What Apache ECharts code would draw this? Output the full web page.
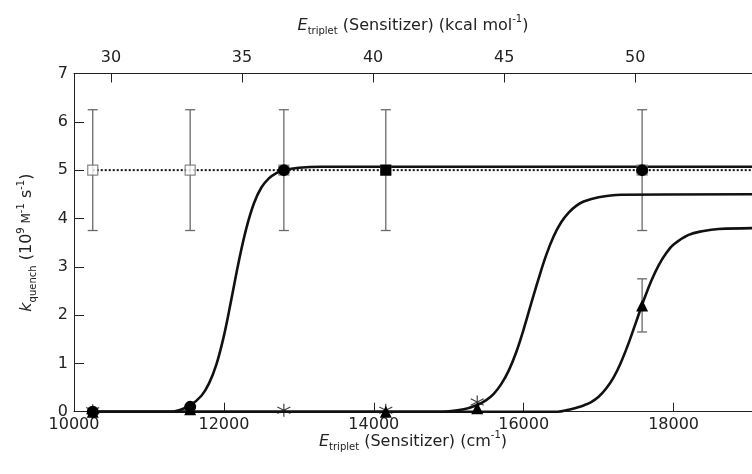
<!DOCTYPE html>
<html>
<head>
<meta charset="utf-8">
<script src="https://cdn.jsdelivr.net/npm/echarts@6/dist/echarts.min.js"></script>
<style>html,body{margin:0;padding:0;background:#fff;}#c{width:752px;height:474px;}</style>
</head>
<body>
<div id="c"></div>
<script>
// ---- data ----
const CM_PER_KCAL = 349.755;
const xBottomTicks = [10000, 12000, 14000, 16000, 18000];
const xTopTicks = [30, 35, 40, 45, 50];
const yTicks = [0, 1, 2, 3, 4, 5, 6, 7];

// open squares (dotted reference line) with error bars
const squareX = [10250, 11550, 12800, 14160, 17580];
const squareY = [5, 5, 5, 5, 5];
const squareErr = [1.25, 1.25, 1.25, 1.25, 1.25];
const dottedX = [10250, 19100];
const dottedY = [5, 5];

// filled circles
const circleX = [10250, 11550, 12800, 17580];
const circleY = [0, 0.1, 5.0, 5.0];
// filled square
const fsquareX = [14160];
const fsquareY = [5.0];
// asterisks
const starX = [10250, 12800, 14160, 15380];
const starY = [0.02, 0.03, 0.03, 0.2];
// filled triangles
const triX = [10250, 11550, 14160, 15380, 17580];
const triY = [0, 0.05, 0, 0.07, 2.2];
const triErr = [0, 0, 0, 0, 0.55];

// fitted curves
const curve1X = [10250, 11300, 11400, 11550, 11700, 11800, 11900, 12000, 12100, 12200, 12300, 12400, 12500, 12600, 12700, 12800, 13000, 13300, 14000, 19100];
const curve1Y = [0, 0, 0.03, 0.13, 0.33, 0.58, 0.98, 1.57, 2.33, 3.12, 3.8, 4.31, 4.64, 4.83, 4.94, 5.0, 5.05, 5.07, 5.07, 5.07];
const curve2X = [10250, 14900, 15200, 15380, 15500, 15600, 15700, 15800, 15900, 16000, 16100, 16200, 16300, 16400, 16500, 16600, 16700, 16800, 17000, 17300, 19100];
const curve2Y = [0, 0, 0.05, 0.14, 0.24, 0.37, 0.57, 0.85, 1.23, 1.71, 2.24, 2.76, 3.24, 3.63, 3.92, 4.12, 4.26, 4.35, 4.44, 4.49, 4.5];
const curve3X = [10250, 16450, 16600, 16700, 16800, 16900, 17000, 17100, 17200, 17300, 17400, 17500, 17600, 17700, 17800, 17900, 18000, 18200, 18400, 18600, 19100];
const curve3Y = [0, 0, 0.04, 0.08, 0.13, 0.2, 0.31, 0.48, 0.71, 1.03, 1.42, 1.86, 2.3, 2.7, 3.03, 3.28, 3.46, 3.66, 3.74, 3.78, 3.8];

// ---- chart ----
const X_MIN = 10000, X_MAX = 19046;
const FONT = 'DejaVu Sans';
const TXT = '#222';
const zip = (a, b) => a.map((v, i) => [v, b[i]]);

const richName = {
  i: {fontFamily: FONT, fontSize: 16, fontStyle: 'italic', color: TXT, lineHeight: 22},
  t: {fontFamily: FONT, fontSize: 16, color: TXT, lineHeight: 22},
  sc: {fontFamily: FONT, fontSize: 12, color: TXT, lineHeight: 22},
  sub: {fontFamily: FONT, fontSize: 10, color: TXT, lineHeight: 11, verticalAlign: 'bottom'},
  sup: {fontFamily: FONT, fontSize: 10, color: TXT, lineHeight: 11, verticalAlign: 'top'}
};

function errorBarSeries(xs, ys, errs) {
  const data = xs.map((x, i) => [x, ys[i], errs[i]]).filter(d => d[2] > 0);
  return {
    type: 'custom',
    xAxisIndex: 0, yAxisIndex: 0,
    z: 1,
    data: data,
    renderItem: function (params, api) {
      const x = api.value(0), y = api.value(1), e = api.value(2);
      const top = api.coord([x, y + e]);
      const bot = api.coord([x, y - e]);
      const hw = 5;
      const st = {stroke: '#6a6a6a', lineWidth: 1.3};
      return {
        type: 'group',
        children: [
          {type: 'line', shape: {x1: top[0], y1: top[1], x2: bot[0], y2: bot[1]}, style: st},
          {type: 'line', shape: {x1: top[0] - hw, y1: top[1], x2: top[0] + hw, y2: top[1]}, style: st},
          {type: 'line', shape: {x1: bot[0] - hw, y1: bot[1], x2: bot[0] + hw, y2: bot[1]}, style: st}
        ]
      };
    }
  };
}

function curveSeries(xs, ys) {
  return {
    type: 'line', data: zip(xs, ys), showSymbol: false, symbol: 'none',
    smooth: 0.4,
    lineStyle: {color: '#111', width: 2.6}, z: 3, silent: true
  };
}

const ASTERISK = 'path://M0,-10L0,10M-8.66,-5L8.66,5M-8.66,5L8.66,-5';

const option = {
  animation: false,
  backgroundColor: '#fff',
  grid: {left: 74, top: 73.5, width: 692, height: 338.2, containLabel: false},
  xAxis: [
    {
      type: 'value', position: 'bottom', min: X_MIN, max: X_MAX,
      axisLine: {show: true, onZero: false, lineStyle: {color: '#222', width: 1}},
      axisTick: {show: true, inside: true, length: 9, customValues: xBottomTicks, lineStyle: {color: '#222'}},
      axisLabel: {customValues: xBottomTicks, fontFamily: FONT, fontSize: 16, color: TXT, margin: 5,
        formatter: v => String(v)},
      splitLine: {show: false},
      name: '{i|E}{sub|triplet}{t| (Sensitizer) (cm}{sup|-1}{t|)}',
      nameLocation: 'middle', nameGap: 19, nameMoveOverlap: false,
      nameTextStyle: {rich: richName}
    },
    {
      type: 'value', position: 'top', min: X_MIN / CM_PER_KCAL, max: X_MAX / CM_PER_KCAL,
      axisLine: {show: true, onZero: false, lineStyle: {color: '#222', width: 1}},
      axisTick: {show: true, inside: true, length: 9, customValues: xTopTicks, lineStyle: {color: '#222'}},
      axisLabel: {customValues: xTopTicks, fontFamily: FONT, fontSize: 16, color: TXT, margin: 8,
        formatter: v => String(v)},
      splitLine: {show: false},
      name: '{i|E}{sub|triplet}{t| (Sensitizer) (kcal mol}{sup|-1}{t|)}',
      nameLocation: 'middle', nameGap: 37,
      nameTextStyle: {rich: richName}
    }
  ],
  yAxis: {
    type: 'value', min: 0, max: 7, interval: 1,
    axisLine: {show: true, onZero: false, lineStyle: {color: '#222', width: 1}},
    axisTick: {show: true, inside: true, length: 10, lineStyle: {color: '#222'}},
    axisLabel: {fontFamily: FONT, fontSize: 16, color: TXT, margin: 6,
      formatter: v => (yTicks.indexOf(v) >= 0 ? String(v) : '')},
    splitLine: {show: false},
    name: '{i|k}{sub|quench}{t| (10}{sup|9}{sc| M}{sup|-1}{t| s}{sup|-1}{t|)}',
    nameLocation: 'middle', nameGap: 36, nameRotate: 90,
    nameTextStyle: {rich: richName}
  },
  series: [
    errorBarSeries(squareX, squareY, squareErr),
    errorBarSeries(triX, triY, triErr),
    {
      type: 'line', data: zip(dottedX, dottedY), showSymbol: false, symbol: 'none',
      lineStyle: {color: '#111', width: 2, type: [2, 2]}, z: 2, silent: true
    },
    {
      type: 'scatter', data: zip(squareX, squareY), symbol: 'rect', symbolSize: 10,
      itemStyle: {color: '#fff', borderColor: '#6a6a6a', borderWidth: 1.2}, z: 4
    },
    curveSeries(curve1X, curve1Y),
    curveSeries(curve2X, curve2Y),
    curveSeries(curve3X, curve3Y),
    {
      type: 'scatter', data: zip(starX, starY), symbol: ASTERISK, symbolSize: 13,
      itemStyle: {color: 'none', borderColor: '#111', borderWidth: 1.2}, z: 5
    },
    {
      type: 'scatter', data: zip(triX, triY), symbol: 'triangle', symbolSize: 12,
      itemStyle: {color: '#000', opacity: 1}, z: 6
    },
    {
      type: 'scatter', data: zip(fsquareX, fsquareY), symbol: 'rect', symbolSize: 11,
      itemStyle: {color: '#000', opacity: 1}, z: 6
    },
    {
      type: 'scatter', data: zip(circleX, circleY), symbol: 'circle', symbolSize: 12,
      itemStyle: {color: '#000', opacity: 1}, z: 7
    }
  ]
};

const chart = echarts.init(document.getElementById('c'), null, {renderer: 'canvas'});
chart.setOption(option);
</script>
</body>
</html>
